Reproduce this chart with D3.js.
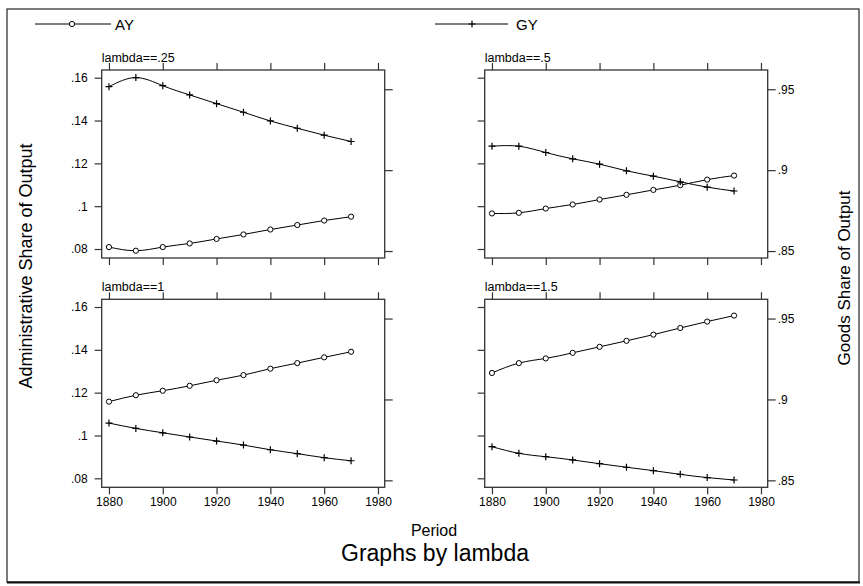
<!DOCTYPE html>
<html lang="en">
<head>
<meta charset="UTF-8">
<title>Graphs by lambda</title>
<script src="https://d3js.org/d3.v7.min.js"></script>
<style>
  body { margin: 0; background: #fff; }
  svg { font-family: "Liberation Sans", Arial, sans-serif; }
  .tick text { font-size: 12px; fill: #000; }
  .tick line { stroke: #333; stroke-width: 1.2px; }
  .series { fill: none; stroke: #000; stroke-width: 1px; }
</style>
</head>
<body>
<script>
// data
var years = [1880, 1890, 1900, 1910, 1920, 1930, 1940, 1950, 1960, 1970];
var lambdas = [".25", ".5", "1", "1.5"];

var ay25 = [.0809, .0792, .0809, .0826, .0847, .0868, .0891, .0912, .0933, .0951];
var gy25 = [.9516, .9572, .9522, .9465, .9411, .9358, .9304, .9259, .9216, .9177];
var ay50 = [.0966, .0969, .0989, .1008, .1031, .1053, .1076, .1098, .1124, .1143];
var gy50 = [.9148, .9148, .9109, .9070, .9037, .8996, .8963, .8928, .8895, .8871];
var ay100 = [.1158, .1188, .1209, .1232, .1258, .1282, .1312, .1338, .1365, .1391];
var gy100 = [.8854, .8821, .8794, .8768, .8743, .8718, .8689, .8665, .8640, .8621];
var ay150 = [.1292, .1338, .1360, .1386, .1414, .1442, .1471, .1502, .1532, .1560];
var gy150 = [.8708, .8667, .8646, .8626, .8603, .8581, .8560, .8537, .8517, .8502];

var ayAll = [ay25, ay50, ay100, ay150];
var gyAll = [gy25, gy50, gy100, gy150];

var xTicks = [1880, 1900, 1920, 1940, 1960, 1980];
var ayTicks = [.08, .10, .12, .14, .16];
var gyTicks = [.85, .90, .95];

var W = 283, H = 188;
var colX = [101.7, 484.7], rowY = [70, 299.3];

var svg = d3.select("body").append("svg").attr("width", 863).attr("height", 586);

// outer frame
svg.append("rect").attr("x", 7).attr("y", 9).attr("width", 852).attr("height", 573)
  .attr("fill", "none").attr("stroke", "#222").attr("stroke-width", 1.2);
svg.append("line").attr("x1", 7).attr("x2", 860).attr("y1", 582.5).attr("y2", 582.5)
  .attr("stroke", "#111").attr("stroke-width", 2.2);

function stataFmt(d) {
  return d3.format("~g")(+d.toFixed(2)).replace(/^0/, "");
}

var plus = "M-3.5,0H3.5M0,-3.5V3.5";

var x = d3.scaleLinear().domain([1877.3, 1982.5]).range([0, W]);
var yL = d3.scaleLinear().domain([.0758, .1636]).range([H, 0]);
var yR = d3.scaleLinear().domain([.8457, .9619]).range([H, 0]);

lambdas.forEach(function (lam, i) {
  var col = i % 2, row = Math.floor(i / 2);
  var g = svg.append("g").attr("transform", "translate(" + colX[col] + "," + rowY[row] + ")");

  g.append("text").attr("x", 0).attr("y", -8.5).attr("font-size", 12.5)
    .text("lambda==" + lam);

  g.append("g").call(d3.axisTop(x).tickValues(xTicks).tickSize(7).tickFormat(""));
  g.append("g").attr("transform", "translate(0," + H + ")")
    .call(d3.axisBottom(x).tickValues(xTicks).tickSize(7).tickPadding(3)
      .tickFormat(row == 1 ? d3.format("d") : ""));
  g.append("g")
    .call(d3.axisLeft(yL).tickValues(ayTicks).tickSize(7).tickPadding(7)
      .tickFormat(col == 0 ? stataFmt : ""));
  g.append("g").attr("transform", "translate(" + W + ",0)")
    .call(d3.axisRight(yR).tickValues(gyTicks).tickSize(8).tickPadding(2)
      .tickFormat(col == 1 ? stataFmt : ""));
  g.selectAll(".domain").remove();

  g.append("rect").attr("width", W).attr("height", H)
    .attr("fill", "none").attr("stroke", "#333").attr("stroke-width", 1.3);

  var ay = ayAll[i], gy = gyAll[i];
  var lineA = d3.line().x(function (d, j) { return x(years[j]); }).y(function (d) { return yL(d); })
    .curve(d3.curveNatural);
  var lineG = d3.line().x(function (d, j) { return x(years[j]); }).y(function (d) { return yR(d); })
    .curve(d3.curveNatural);

  g.append("path").attr("class", "series").attr("d", lineA(ay));
  g.append("path").attr("class", "series").attr("d", lineG(gy));

  g.selectAll(".ay").data(ay).enter().append("circle")
    .attr("cx", function (d, j) { return x(years[j]); })
    .attr("cy", function (d) { return yL(d); })
    .attr("r", 2.6).attr("fill", "#fff").attr("stroke", "#000").attr("stroke-width", 1);
  g.selectAll(".gy").data(gy).enter().append("path")
    .attr("d", plus)
    .attr("transform", function (d, j) { return "translate(" + x(years[j]) + "," + yR(d) + ")"; })
    .attr("stroke", "#000").attr("stroke-width", 1.2);
});

// legend
var leg = svg.append("g");
leg.append("line").attr("x1", 35).attr("x2", 111).attr("y1", 24).attr("y2", 24).attr("stroke", "#000");
leg.append("circle").attr("cx", 72).attr("cy", 24).attr("r", 2.6).attr("fill", "#fff").attr("stroke", "#000");
leg.append("text").attr("x", 115).attr("y", 29.5).attr("font-size", 15).text("AY");
leg.append("line").attr("x1", 435).attr("x2", 508).attr("y1", 24).attr("y2", 24).attr("stroke", "#000");
leg.append("path").attr("d", plus).attr("transform", "translate(472,24)").attr("stroke", "#000").attr("stroke-width", 1.2);
leg.append("text").attr("x", 516).attr("y", 29.5).attr("font-size", 15).text("GY");

// axis titles
svg.append("text").attr("transform", "translate(31.5,266) rotate(-90)")
  .attr("text-anchor", "middle").attr("font-size", 18).text("Administrative Share of Output");
svg.append("text").attr("transform", "translate(850,278) rotate(-90)")
  .attr("text-anchor", "middle").attr("font-size", 17).text("Goods Share of Output");
svg.append("text").attr("x", 434).attr("y", 535.5).attr("text-anchor", "middle")
  .attr("font-size", 16).text("Period");
svg.append("text").attr("x", 435).attr("y", 561).attr("text-anchor", "middle")
  .attr("font-size", 23).text("Graphs by lambda");
</script>
</body>
</html>
